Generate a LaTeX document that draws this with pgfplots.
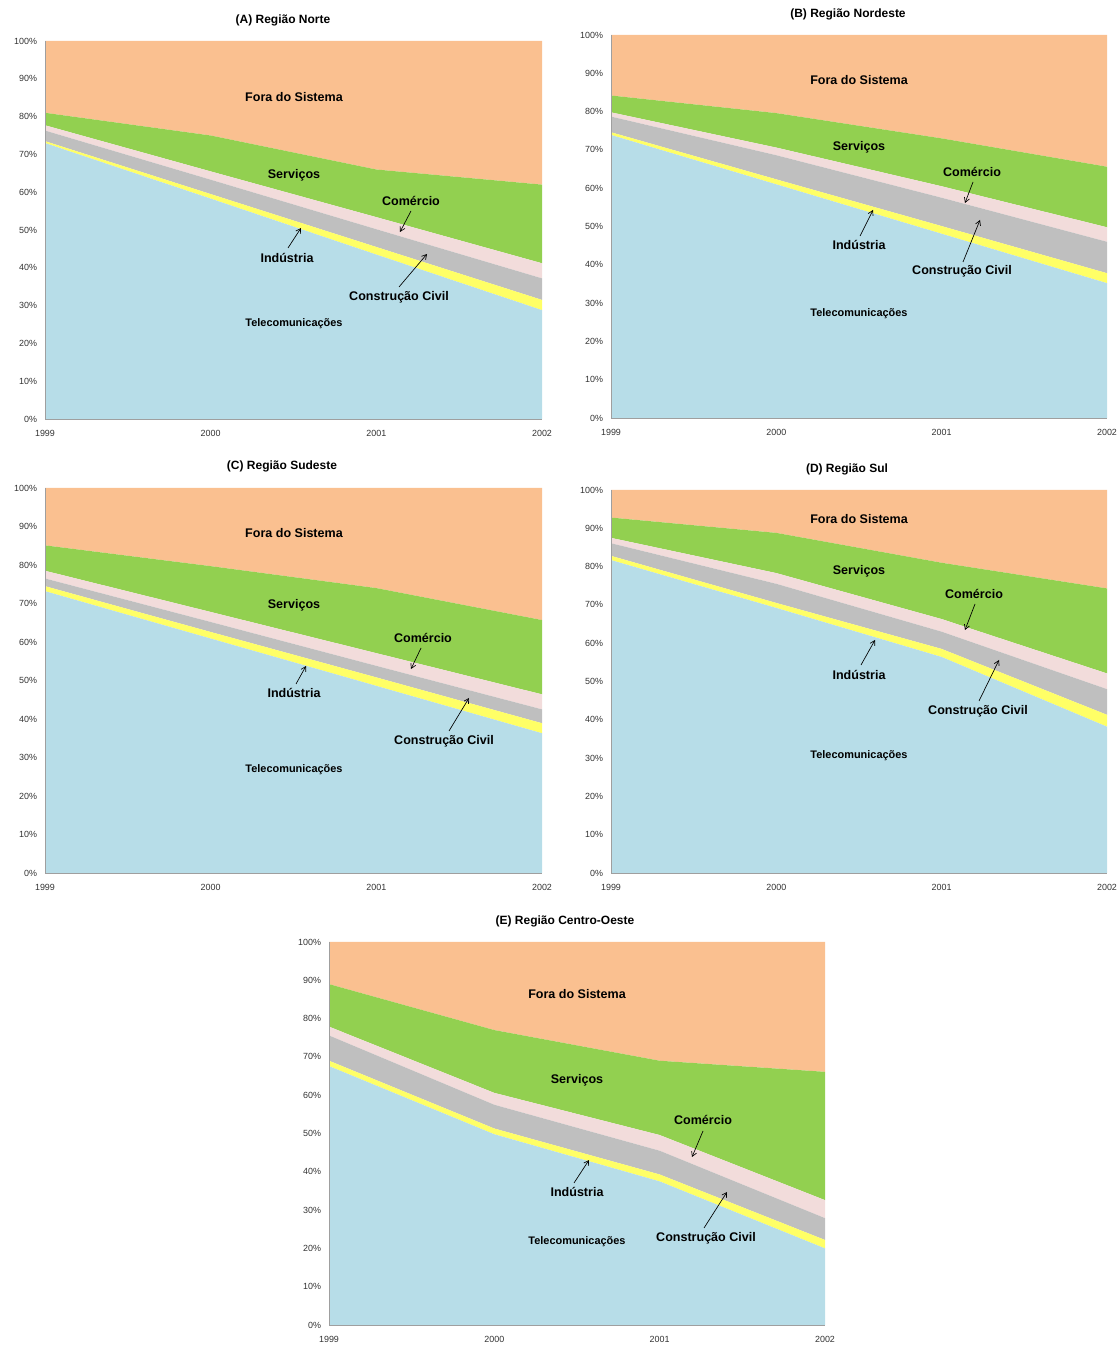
\documentclass[border=0pt]{standalone}
\usepackage{fontspec}
\setmainfont{Liberation Sans}
\usepackage{pgfplots}
\usepackage{pgfplotstable}
\pgfplotsset{compat=1.18}
\usetikzlibrary{arrows.meta}

\definecolor{cBlue}{HTML}{B7DDE8}
\definecolor{cYel}{HTML}{FFFF66}
\definecolor{cGray}{HTML}{BFBFBF}
\definecolor{cPink}{HTML}{F2DCDB}
\definecolor{cGreen}{HTML}{92D050}
\definecolor{cPeach}{HTML}{FAC090}

\pgfplotstableread{
x blue yel gray pink green peach
0 73.0 0.5 2.8 1.4 3.3 19.0
1 58.3 1.2 3.8 2.2 9.5 25.0
2 43.5 2.0 4.7 3.2 12.6 34.0
3 28.8 2.7 5.7 4.0 20.8 38.0
}\dataA
\pgfplotstableread{
x blue yel gray pink green peach
0 73.9 0.7 4.1 1.1 4.4 15.8
1 61.0 1.3 6.3 2.0 9.0 20.4
2 48.1 2.0 7.4 3.0 12.5 27.0
3 35.2 2.6 8.2 3.8 15.8 34.4
}\dataB
\pgfplotstableread{
x blue yel gray pink green peach
0 73.2 1.3 2.0 2.0 6.6 14.9
1 60.9 1.7 2.6 2.6 11.9 20.3
2 48.6 2.2 3.0 3.3 16.9 26.0
3 36.3 2.6 3.6 3.9 19.3 34.3
}\dataC
\pgfplotstableread{
x blue yel gray pink green peach
0 81.7 1.1 3.3 1.4 5.3 7.2
1 69.2 1.3 5.0 2.8 10.5 11.2
2 56.4 2.1 4.5 3.3 14.7 19.0
3 38.2 3.1 6.7 4.1 22.2 25.7
}\dataD
\pgfplotstableread{
x blue yel gray pink green peach
0 67.6 1.4 6.6 2.3 11.1 11.0
1 49.8 1.5 6.2 3.1 16.4 23.0
2 37.5 1.8 6.2 4.1 19.4 31.0
3 20.0 2.2 5.7 4.7 33.5 33.9
}\dataE

\pgfplotsset{
  regstyle/.style={
    scale only axis, anchor=south west,
    xmin=0, xmax=3, ymin=0, ymax=100,
    xtick={0,1,2,3}, xticklabels={1999,2000,2001,2002},
    ytick={0,10,...,100},
    yticklabel={\pgfmathprintnumber{\tick}\%},
    /pgf/number format/assume math mode=true,
    stack plots=y,
    axis x line*=bottom, axis y line*=left,
    axis line style={draw=gray!75, line width=0.6pt},
    axis on top,
    major tick length=0pt,
    tick label style={font=\fontsize{6.7}{7.5}\selectfont, text=black!80},
    yticklabel style={xshift=-2.5pt},
    xticklabel style={yshift=-5pt},
    clip=false,
  },
}
\newcommand{\stackit}[1]{%
  \addplot[fill=cBlue, draw=none] table[y=blue]{#1} \closedcycle;
  \addplot[fill=cYel, draw=none] table[y=yel]{#1} \closedcycle;
  \addplot[fill=cGray, draw=none] table[y=gray]{#1} \closedcycle;
  \addplot[fill=cPink, draw=none] table[y=pink]{#1} \closedcycle;
  \addplot[fill=cGreen, draw=none] table[y=green]{#1} \closedcycle;
  \addplot[fill=cPeach, draw=none] table[y=peach]{#1} \closedcycle;
}
\tikzset{
  lab/.style={font=\bfseries\fontsize{9.4}{11}\selectfont},
  tel/.style={font=\bfseries\fontsize{8.2}{10}\selectfont},
  ttl/.style={font=\bfseries\fontsize{9}{11}\selectfont},
  arr/.style={-{Straight Barb[length=3.5pt,width=4pt]}, line width=0.5pt},
}

\begin{document}
\begin{tikzpicture}[x=0.75pt, y=0.75pt]
\path[use as bounding box] (0,0) rectangle (1119,1345);

% (A)
\begin{axis}[regstyle, at={(33.75pt,694.5pt)}, width=372.75pt, height=283.5pt]
\stackit{\dataA}
\end{axis}
% (B)
\begin{axis}[regstyle, at={(458.25pt,695.25pt)}, width=372pt, height=287.25pt]
\stackit{\dataB}
\end{axis}
% (C)
\begin{axis}[regstyle, at={(33.75pt,354pt)}, width=372.75pt, height=288.75pt]
\stackit{\dataC}
\end{axis}
% (D)
\begin{axis}[regstyle, at={(458.25pt,354pt)}, width=372pt, height=287.25pt]
\stackit{\dataD}
\end{axis}
% (E)
\begin{axis}[regstyle, at={(246.75pt,15pt)}, width=372pt, height=287.25pt]
\stackit{\dataE}
\end{axis}

\begin{scope}[y=-0.75pt, yshift=1008.75pt]
% Titles
\node[ttl] at (283,20) {(A) Região Norte};
\node[ttl] at (848,14) {(B) Região Nordeste};
\node[ttl] at (282,466) {(C) Região Sudeste};
\node[ttl] at (847,469) {(D) Região Sul};
\node[ttl] at (565,921) {(E) Região Centro-Oeste};

% Labels A
\node[lab] at (294,97) {Fora do Sistema};
\node[lab] at (294,175) {Serviços};
\node[lab] at (411,201) {Comércio};
\node[lab] at (287,258) {Indústria};
\node[lab] at (399,297) {Construção Civil};
\node[tel] at (294,324) {Telecomunicações};
\draw[arr] (411,211) -- (400,232);
\draw[arr] (288,248) -- (301,228);
\draw[arr] (399,287) -- (427,254);

% Labels B
\node[lab] at (859,80) {Fora do Sistema};
\node[lab] at (859,147) {Serviços};
\node[lab] at (972,172) {Comércio};
\node[lab] at (859,245) {Indústria};
\node[lab] at (962,271) {Construção Civil};
\node[tel] at (859,314) {Telecomunicações};
\draw[arr] (973,182) -- (965,203);
\draw[arr] (860,236) -- (873,210);
\draw[arr] (963,262) -- (980,220);

% Labels C
\node[lab] at (294,533) {Fora do Sistema};
\node[lab] at (294,605) {Serviços};
\node[lab] at (423,638) {Comércio};
\node[lab] at (294,693) {Indústria};
\node[lab] at (444,741) {Construção Civil};
\node[tel] at (294,770) {Telecomunicações};
\draw[arr] (421,648) -- (411,669);
\draw[arr] (296,684) -- (306,666);
\draw[arr] (449,731) -- (469,698);

% Labels D
\node[lab] at (859,519) {Fora do Sistema};
\node[lab] at (859,571) {Serviços};
\node[lab] at (974,594) {Comércio};
\node[lab] at (859,675) {Indústria};
\node[lab] at (978,711) {Construção Civil};
\node[tel] at (859,756) {Telecomunicações};
\draw[arr] (975,604) -- (965,630);
\draw[arr] (861,665) -- (875,640);
\draw[arr] (979,701) -- (999,660);

% Labels E
\node[lab] at (577,994) {Fora do Sistema};
\node[lab] at (577,1080) {Serviços};
\node[lab] at (703,1120) {Comércio};
\node[lab] at (577,1192) {Indústria};
\node[lab] at (706,1238) {Construção Civil};
\node[tel] at (577,1242) {Telecomunicações};
\draw[arr] (703,1131) -- (692,1157);
\draw[arr] (574,1183) -- (589,1160);
\draw[arr] (704,1228) -- (727,1192);
\end{scope}
\end{tikzpicture}
\end{document}
